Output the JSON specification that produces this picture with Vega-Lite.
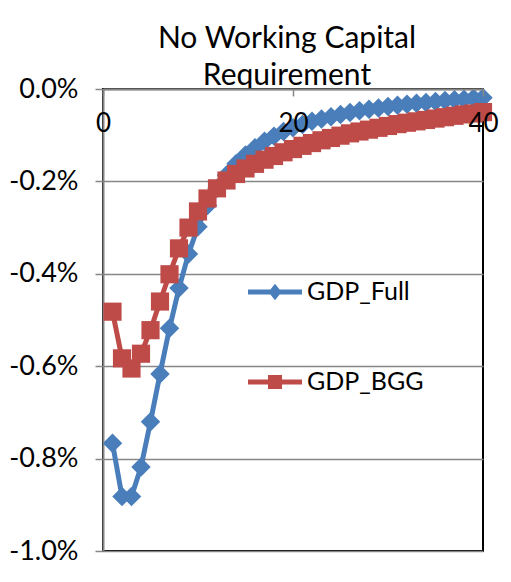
{
  "$schema": "https://vega.github.io/schema/vega-lite/v6.json",
  "width": 380,
  "height": 462,
  "autosize": {"type": "none"},
  "padding": {"left": 103, "top": 89, "right": 28, "bottom": 31},
  "background": "white",
  "config": {
    "locale": {"number": {"decimal": ".", "thousands": ",", "grouping": [3], "currency": ["$", ""], "minus": "-"}},
    "view": {"stroke": "#000000", "strokeWidth": 2},
    "font": "Lato"
  },
  "title": {
    "text": ["No Working Capital", "Requirement"],
    "font": "Lato",
    "fontSize": 30,
    "fontWeight": "normal",
    "color": "#000000",
    "frame": "group",
    "anchor": "middle",
    "offset": -16,
    "lineHeight": 37,
    "dx": -6
  },
  "data": {
    "values": [
      {"x": 1, "series": "GDP_Full", "v": -0.767},
      {"x": 2, "series": "GDP_Full", "v": -0.882},
      {"x": 3, "series": "GDP_Full", "v": -0.882},
      {"x": 4, "series": "GDP_Full", "v": -0.818},
      {"x": 5, "series": "GDP_Full", "v": -0.720},
      {"x": 6, "series": "GDP_Full", "v": -0.617},
      {"x": 7, "series": "GDP_Full", "v": -0.518},
      {"x": 8, "series": "GDP_Full", "v": -0.431},
      {"x": 9, "series": "GDP_Full", "v": -0.357},
      {"x": 10, "series": "GDP_Full", "v": -0.298},
      {"x": 11, "series": "GDP_Full", "v": -0.252},
      {"x": 12, "series": "GDP_Full", "v": -0.215},
      {"x": 13, "series": "GDP_Full", "v": -0.186},
      {"x": 14, "series": "GDP_Full", "v": -0.162},
      {"x": 15, "series": "GDP_Full", "v": -0.143},
      {"x": 16, "series": "GDP_Full", "v": -0.127},
      {"x": 17, "series": "GDP_Full", "v": -0.113},
      {"x": 18, "series": "GDP_Full", "v": -0.102},
      {"x": 19, "series": "GDP_Full", "v": -0.092},
      {"x": 20, "series": "GDP_Full", "v": -0.084},
      {"x": 21, "series": "GDP_Full", "v": -0.077},
      {"x": 22, "series": "GDP_Full", "v": -0.070},
      {"x": 23, "series": "GDP_Full", "v": -0.065},
      {"x": 24, "series": "GDP_Full", "v": -0.060},
      {"x": 25, "series": "GDP_Full", "v": -0.055},
      {"x": 26, "series": "GDP_Full", "v": -0.051},
      {"x": 27, "series": "GDP_Full", "v": -0.047},
      {"x": 28, "series": "GDP_Full", "v": -0.044},
      {"x": 29, "series": "GDP_Full", "v": -0.041},
      {"x": 30, "series": "GDP_Full", "v": -0.038},
      {"x": 31, "series": "GDP_Full", "v": -0.035},
      {"x": 32, "series": "GDP_Full", "v": -0.033},
      {"x": 33, "series": "GDP_Full", "v": -0.031},
      {"x": 34, "series": "GDP_Full", "v": -0.029},
      {"x": 35, "series": "GDP_Full", "v": -0.027},
      {"x": 36, "series": "GDP_Full", "v": -0.025},
      {"x": 37, "series": "GDP_Full", "v": -0.023},
      {"x": 38, "series": "GDP_Full", "v": -0.022},
      {"x": 39, "series": "GDP_Full", "v": -0.020},
      {"x": 40, "series": "GDP_Full", "v": -0.019},
      {"x": 1, "series": "GDP_BGG", "v": -0.482},
      {"x": 2, "series": "GDP_BGG", "v": -0.583},
      {"x": 3, "series": "GDP_BGG", "v": -0.605},
      {"x": 4, "series": "GDP_BGG", "v": -0.573},
      {"x": 5, "series": "GDP_BGG", "v": -0.522},
      {"x": 6, "series": "GDP_BGG", "v": -0.460},
      {"x": 7, "series": "GDP_BGG", "v": -0.401},
      {"x": 8, "series": "GDP_BGG", "v": -0.345},
      {"x": 9, "series": "GDP_BGG", "v": -0.300},
      {"x": 10, "series": "GDP_BGG", "v": -0.265},
      {"x": 11, "series": "GDP_BGG", "v": -0.237},
      {"x": 12, "series": "GDP_BGG", "v": -0.215},
      {"x": 13, "series": "GDP_BGG", "v": -0.198},
      {"x": 14, "series": "GDP_BGG", "v": -0.184},
      {"x": 15, "series": "GDP_BGG", "v": -0.172},
      {"x": 16, "series": "GDP_BGG", "v": -0.162},
      {"x": 17, "series": "GDP_BGG", "v": -0.153},
      {"x": 18, "series": "GDP_BGG", "v": -0.145},
      {"x": 19, "series": "GDP_BGG", "v": -0.137},
      {"x": 20, "series": "GDP_BGG", "v": -0.130},
      {"x": 21, "series": "GDP_BGG", "v": -0.123},
      {"x": 22, "series": "GDP_BGG", "v": -0.117},
      {"x": 23, "series": "GDP_BGG", "v": -0.111},
      {"x": 24, "series": "GDP_BGG", "v": -0.106},
      {"x": 25, "series": "GDP_BGG", "v": -0.101},
      {"x": 26, "series": "GDP_BGG", "v": -0.096},
      {"x": 27, "series": "GDP_BGG", "v": -0.092},
      {"x": 28, "series": "GDP_BGG", "v": -0.088},
      {"x": 29, "series": "GDP_BGG", "v": -0.084},
      {"x": 30, "series": "GDP_BGG", "v": -0.080},
      {"x": 31, "series": "GDP_BGG", "v": -0.076},
      {"x": 32, "series": "GDP_BGG", "v": -0.073},
      {"x": 33, "series": "GDP_BGG", "v": -0.070},
      {"x": 34, "series": "GDP_BGG", "v": -0.067},
      {"x": 35, "series": "GDP_BGG", "v": -0.064},
      {"x": 36, "series": "GDP_BGG", "v": -0.061},
      {"x": 37, "series": "GDP_BGG", "v": -0.058},
      {"x": 38, "series": "GDP_BGG", "v": -0.055},
      {"x": 39, "series": "GDP_BGG", "v": -0.053},
      {"x": 40, "series": "GDP_BGG", "v": -0.050}
    ]
  },
  "encoding": {
    "x": {
      "field": "x",
      "type": "quantitative",
      "scale": {"domain": [0, 40], "nice": false, "zero": false},
      "axis": {
        "orient": "bottom",
        "offset": -462,
        "values": [0, 20, 40],
        "title": null,
        "grid": false,
        "domainColor": "#868686",
        "domainWidth": 2,
        "tickColor": "#868686",
        "tickWidth": 1.5,
        "tickSize": 7,
        "labelFont": "Lato",
        "labelFontSize": 26,
        "labelColor": "#000000",
        "labelPadding": 14,
        "labelFlush": false,
        "labelOverlap": false,
        "zindex": 1
      }
    },
    "y": {
      "field": "v",
      "type": "quantitative",
      "scale": {"domain": [-1, 0], "nice": false},
      "axis": {
        "values": [-1, -0.8, -0.6, -0.4, -0.2, 0],
        "labelExpr": "format(datum.value, '.1f') + '%'",
        "title": null,
        "grid": true,
        "gridColor": "#868686",
        "gridWidth": 1.5,
        "domainColor": "#868686",
        "domainWidth": 2,
        "tickColor": "#868686",
        "tickWidth": 1.5,
        "tickSize": 8,
        "labelFont": "Lato",
        "labelFontSize": 27,
        "labelColor": "#000000",
        "labelPadding": 17,
        "labelOverlap": false,
        "labelBound": false,
        "zindex": 0
      }
    },
    "color": {
      "field": "series",
      "type": "nominal",
      "scale": {"domain": ["GDP_Full", "GDP_BGG"], "range": ["#4A7EBB", "#BE4B48"]},
      "legend": {
        "orient": "none",
        "legendX": 145,
        "legendY": 176,
        "title": null,
        "padding": 0,
        "symbolSize": 2916,
        "labelFont": "Lato",
        "labelFontSize": 25,
        "labelColor": "#000000",
        "labelOffset": 5,
        "rowPadding": 50,
        "encode": {
          "symbols": {
            "update": {
              "shape": {"signal": "datum.value === 'GDP_Full' ? 'M-1,-0.09H-0.17L0,-0.31L0.17,-0.09H1V0.09H0.17L0,0.31L-0.17,0.09H-1Z' : 'M-1,-0.09H-0.26V-0.26H0.26V-0.09H1V0.09H0.26V0.26H-0.26V0.09H-1Z'"},
              "fill": {"signal": "scale('color', datum.value)"},
              "strokeWidth": {"value": 0},
              "opacity": {"value": 1}
            }
          }
        }
      }
    }
  },
  "layer": [
    {
      "transform": [{"filter": "datum.series === 'GDP_Full'"}],
      "mark": {"type": "line", "strokeWidth": 5, "strokeJoin": "round", "strokeCap": "round"}
    },
    {
      "transform": [{"filter": "datum.series === 'GDP_Full'"}],
      "mark": {"type": "point", "shape": "diamond", "filled": true, "size": 380, "opacity": 1, "strokeWidth": 0}
    },
    {
      "transform": [{"filter": "datum.series === 'GDP_BGG'"}],
      "mark": {"type": "line", "strokeWidth": 5, "strokeJoin": "round", "strokeCap": "round"}
    },
    {
      "transform": [{"filter": "datum.series === 'GDP_BGG'"}],
      "mark": {"type": "point", "shape": "square", "filled": true, "size": 330, "opacity": 1, "strokeWidth": 0}
    }
  ]
}
